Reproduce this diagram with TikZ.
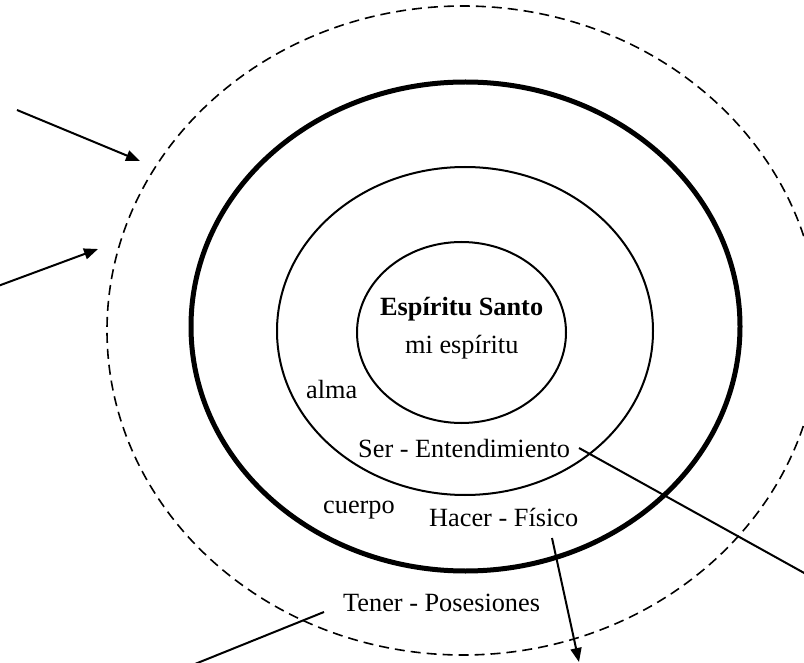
\documentclass[tikz,border=0pt]{standalone}
\usepackage{fontspec}
\setmainfont{Liberation Serif}
\usetikzlibrary{shapes.geometric,arrows.meta}
\begin{document}
\begin{tikzpicture}[x=1pt,y=-1pt,
  ring/.style={draw,ellipse,inner sep=0pt,line width=2pt},
  lbl/.style={inner sep=0pt,anchor=base west,font=\fontsize{26.3}{30}\selectfont},
  con/.style={line width=2pt},
  arr/.style={con,-{Triangle[length=14pt,width=11pt]}}]
\useasboundingbox (0,0) rectangle (804,663);
\clip (0,0) rectangle (804,663);
% rings
\node[ring,line width=1.6pt,dash pattern=on 10pt off 6pt,minimum width=712pt,minimum height=649pt] (outer) at (463,330.5) {};
\node[ring,line width=5pt,minimum width=549pt,minimum height=489pt] (cuerpoRing) at (465.5,326.5) {};
\node[ring,minimum width=376pt,minimum height=328pt] (almaRing) at (465,331) {};
\node[ring,minimum width=209pt,minimum height=181pt] (espRing) at (461.5,332.5) {};
% labels
\node[lbl,font=\fontsize{26.3}{30}\selectfont\bfseries] (santo) at (380,316) {Espíritu Santo};
\node[lbl] (mies) at (405,353) {mi espíritu};
\node[lbl] (alma) at (306,398) {alma};
\node[lbl] (ser) at (358,457) {Ser - Entendimiento};
\node[lbl] (cuerpo) at (323,513) {cuerpo};
\node[lbl] (hacer) at (429,526) {Hacer - Físico};
\node[lbl] (tener) at (343,611) {Tener - Posesiones};
% connector end points
\coordinate (a1s) at (17,110);
\coordinate (a1t) at (140,161);
\coordinate (a2s) at (-2,286);
\coordinate (a2t) at (98,249);
\coordinate (serFrom) at (579,448);
\coordinate (serTo) at (806,574);
\coordinate (hacerFrom) at (552,538);
\coordinate (hacerTo) at (579,662);
\coordinate (tenerFrom) at (324,612);
\coordinate (tenerTo) at (190,666);
% connectors
\draw[arr] (a1s) -- (a1t);
\draw[arr] (a2s) -- (a2t);
\draw[con] (serFrom) -- (serTo);
\draw[arr] (hacerFrom) -- (hacerTo);
\draw[con] (tenerFrom) -- (tenerTo);
\end{tikzpicture}
\end{document}
